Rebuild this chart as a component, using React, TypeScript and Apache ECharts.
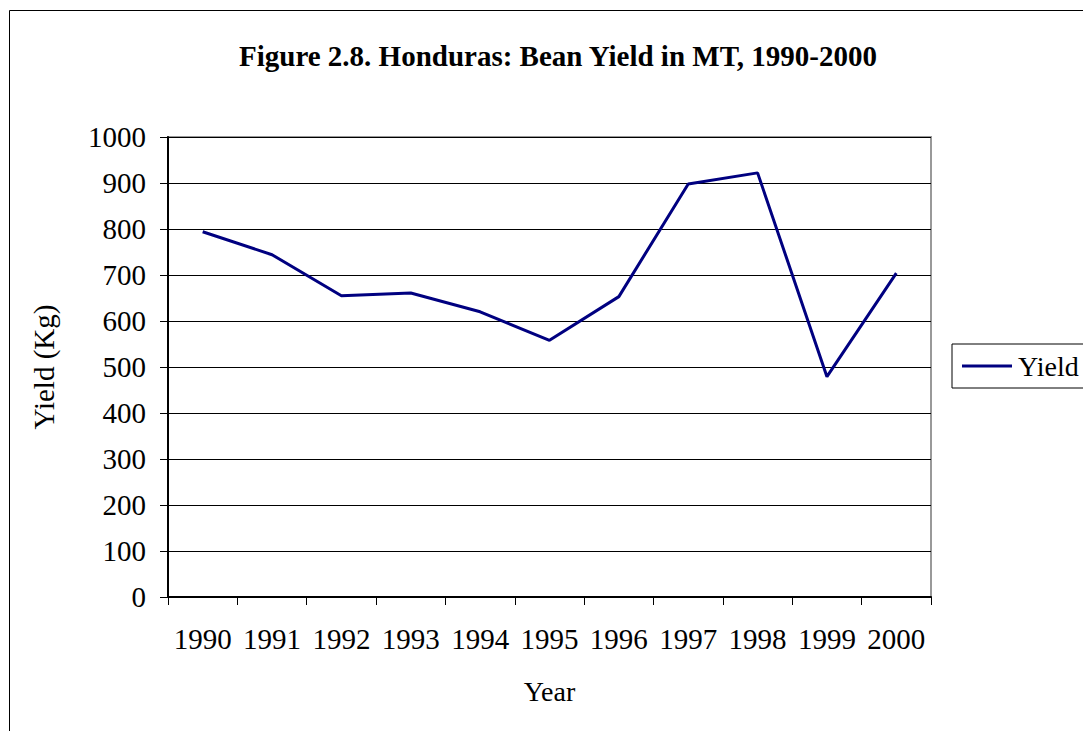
import React, { useEffect, useRef } from "react";
import * as echarts from "echarts";

const years = ["1990", "1991", "1992", "1993", "1994", "1995", "1996", "1997", "1998", "1999", "2000"];
const yieldKg = [794, 744, 655, 661, 620, 558, 653, 898, 922, 479, 704];
const titleText = "Figure 2.8. Honduras: Bean Yield in MT, 1990-2000";
const yAxisName = "Yield (Kg)";
const xAxisName = "Year";
const seriesName = "Yield";

const FONT = '"Liberation Serif", "Times New Roman", serif';

export default function App() {
  const ref = useRef<HTMLDivElement>(null);
  useEffect(() => {
    if (!ref.current) return;
    const chart = echarts.init(ref.current, null, { renderer: "svg" });
    chart.setOption({
      animation: false,
      backgroundColor: "#ffffff",
      textStyle: { fontFamily: FONT, color: "#000" },
      title: {
        text: titleText,
        left: 553,
        textAlign: "center",
        top: 36,
        textStyle: { fontFamily: FONT, fontSize: 29, fontWeight: "bold", color: "#000" },
      },
      graphic: [
        {
          type: "rect",
          shape: { x: 9.5, y: 10.5, width: 1200, height: 900 },
          style: { fill: "none", stroke: "#000", lineWidth: 1 },
          silent: true,
          z: -10,
        },
      ],
      legend: {
        left: 952,
        top: 344,
        orient: "vertical",
        padding: [8, 20, 8, 10],
        itemGap: 0,
        itemWidth: 50,
        itemHeight: 3,
        icon: "rect",
        borderColor: "#000",
        borderWidth: 1,
        backgroundColor: "#fff",
        textStyle: { fontFamily: FONT, fontSize: 28, color: "#000", padding: [0, 0, 0, 1] },
        data: [{ name: seriesName, icon: "rect" }],
      },
      grid: {
        left: 168,
        top: 137,
        width: 763,
        height: 460,
        show: true,
        borderColor: "#999999",
        borderWidth: 2,
        backgroundColor: "transparent",
      },
      xAxis: {
        type: "category",
        data: years,
        boundaryGap: true,
        name: xAxisName,
        nameLocation: "middle",
        nameGap: 80,
        nameTextStyle: { fontFamily: FONT, fontSize: 28, color: "#000" },
        axisLine: { show: true, lineStyle: { color: "#000", width: 2 } },
        axisTick: { show: true, inside: false, length: 8, alignWithLabel: false, lineStyle: { color: "#000", width: 1 } },
        axisLabel: { fontFamily: FONT, fontSize: 29, color: "#000", margin: 27, interval: 0 },
        splitLine: { show: false },
      },
      yAxis: {
        type: "value",
        min: 0,
        max: 1000,
        interval: 100,
        name: yAxisName,
        nameLocation: "middle",
        nameGap: 110,
        nameRotate: 90,
        nameTextStyle: { fontFamily: FONT, fontSize: 29, color: "#000" },
        axisLine: { show: true, lineStyle: { color: "#000", width: 2 } },
        axisTick: { show: true, inside: false, length: 8, lineStyle: { color: "#000", width: 1 } },
        axisLabel: {
          fontFamily: FONT,
          fontSize: 29,
          color: "#000",
          margin: 22,
          formatter: (v: number) => String(v),
        },
        splitLine: { show: true, lineStyle: { color: "#000", width: 1 } },
      },
      series: [
        {
          name: seriesName,
          type: "line",
          data: yieldKg,
          symbol: "none",
          lineStyle: { color: "#000080", width: 3 },
          itemStyle: { color: "#000080" },
        },
      ],
    });
    return () => chart.dispose();
  }, []);
  return (
    <div
      ref={ref}
      style={{ position: "absolute", left: 0, top: 0, width: 1083, height: 731, background: "#fff" }}
    />
  );
}
